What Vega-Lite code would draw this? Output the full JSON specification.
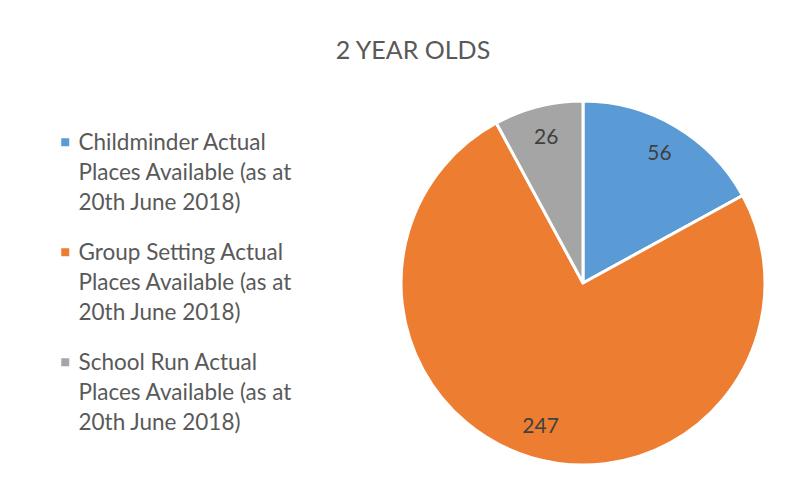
{
  "$schema": "https://vega.github.io/schema/vega-lite/v6.json",
  "width": 364,
  "height": 364,
  "autosize": {"type": "none"},
  "padding": {"left": 401, "top": 101, "right": 39, "bottom": 28},
  "background": "white",
  "config": {"view": {"stroke": null}, "font": "Lato", "style": {"guide-label": {"lineHeight": 30}}},
  "title": {"text": "2 YEAR OLDS", "fontSize": 25, "font": "Lato", "fontWeight": "normal", "color": "#595959", "dx": -170, "offset": 31, "anchor": "middle"},
  "data": {"values": [
    {"category": "Childminder Actual Places Available (as at 20th June 2018)", "places": 56, "order": 1},
    {"category": "Group Setting Actual Places Available (as at 20th June 2018)", "places": 247, "order": 2},
    {"category": "School Run Actual Places Available (as at 20th June 2018)", "places": 26, "order": 3}
  ]},
  "encoding": {
    "theta": {"field": "places", "type": "quantitative", "stack": true},
    "order": {"field": "order", "type": "quantitative"}
  },
  "layer": [
    {
      "mark": {"type": "arc", "outerRadius": 182, "stroke": "white", "strokeWidth": 3},
      "encoding": {
        "color": {
          "field": "category",
          "type": "nominal",
          "sort": null,
          "scale": {"range": ["#5B9BD5", "#ED7D31", "#A5A5A5"]},
          "legend": {
            "orient": "none",
            "legendX": -347,
            "legendY": 20,
            "padding": 0,
            "title": null,
            "symbolType": "M-1,1.5L1,1.5L1,3.5L-1,3.5Z",
            "symbolSize": 64,
            "symbolStrokeWidth": 0,
            "labelFontSize": 22.5,
            "labelFont": "Lato",
            "labelColor": "#595959",
            "labelLimit": 400,
            "labelOffset": 2,
            "rowPadding": 16,
            "labelBaseline": "top",
            "labelExpr": "split(replace(replace(datum.label, ' Places', '|Places'), ' 20th', '|20th'), '|')",
            "encode": {"labels": {"update": {"lineHeight": {"value": 30}}}}
          }
        }
      }
    },
    {
      "mark": {"type": "text", "radius": 150, "fontSize": 21, "font": "Lato", "color": "#404040"},
      "encoding": {
        "text": {"field": "places", "type": "quantitative"},
        "detail": {"field": "category", "type": "nominal"}
      }
    }
  ]
}
